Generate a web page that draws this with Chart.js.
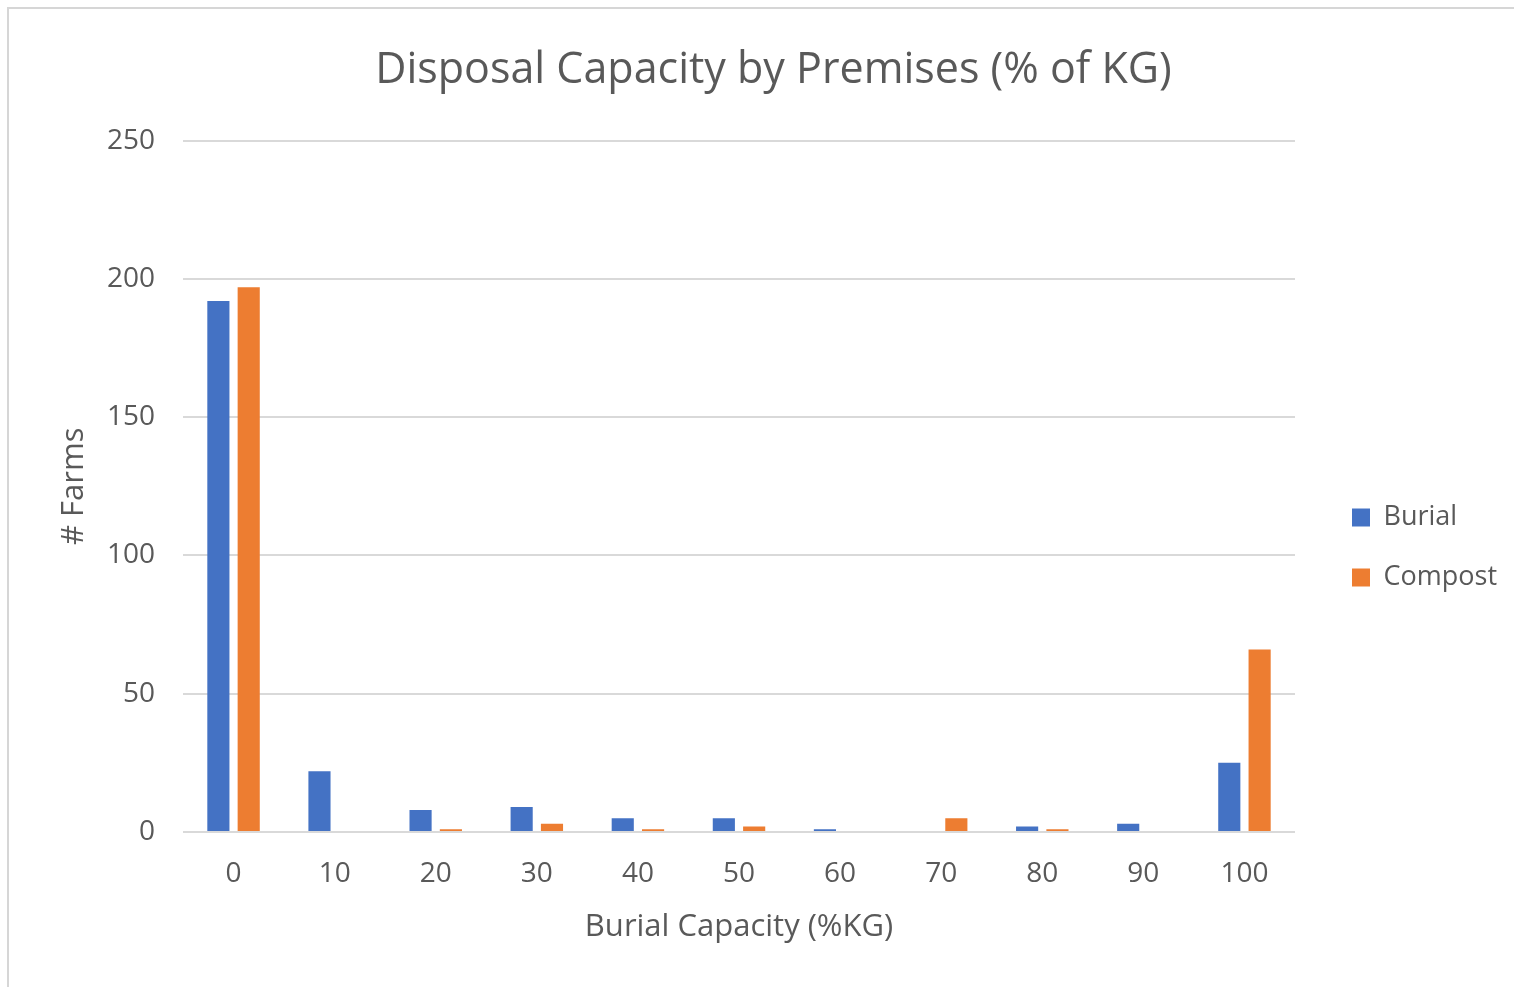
<!DOCTYPE html>
<html>
<head>
<meta charset="utf-8">
<script src="https://cdn.jsdelivr.net/npm/chart.js@4.4.1/dist/chart.umd.min.js"></script>
<style>
  html, body { margin: 0; padding: 0; background: #fff; overflow: hidden; }
  #frame { position: absolute; left: 7px; top: 7px; width: 1520px; height: 1000px;
           border-top: 2px solid #d6d6d6; border-left: 2px solid #d6d6d6; }
  #wrap { position: absolute; left: 0; top: 0; width: 1514px; height: 987px; }
</style>
</head>
<body>
<div id="frame"></div>
<div id="wrap"><canvas id="grafico"></canvas></div>
<script>
// dati
const categorie = ['0', '10', '20', '30', '40', '50', '60', '70', '80', '90', '100'];
const burial  = [192, 22, 8, 9, 5, 5, 1, 0, 2, 3, 25];
const compost = [197, 0, 1, 3, 1, 2, 0, 5, 1, 0, 66];
const yTicks = [0, 50, 100, 150, 200, 250];

const grigio = '#595959';
const font = "'Open Sans', 'Noto Sans', sans-serif";

const ctx = document.getElementById('grafico').getContext('2d');
new Chart(ctx, {
  type: 'bar',
  data: {
    labels: categorie,
    datasets: [
      { label: 'Burial', data: burial, backgroundColor: '#4472c4',
        categoryPercentage: 0.6, barPercentage: 0.73 },
      { label: 'Compost', data: compost, backgroundColor: '#ed7d31',
        categoryPercentage: 0.6, barPercentage: 0.73 }
    ]
  },
  options: {
    responsive: true,
    maintainAspectRatio: false,
    animation: false,
    layout: { padding: { left: 40, right: 7, top: 45, bottom: 41 } },
    plugins: {
      title: {
        display: true,
        text: 'Disposal Capacity by Premises (% of KG)',
        color: grigio,
        font: { family: font, size: 43, weight: 'normal' },
        padding: { top: 0, bottom: 44 }
      },
      legend: {
        position: 'right',
        // titolo vuoto solo per spostare la legenda più in basso
        title: { display: true, text: ' ', font: { size: 20 }, padding: 40 },
        labels: {
          color: grigio,
          font: { family: font, size: 27 },
          boxWidth: 18, boxHeight: 18,
          padding: 33
        }
      },
      tooltip: { enabled: false }
    },
    scales: {
      x: {
        afterFit: s => { s.height = 114; },
        grid: { display: false, drawTicks: false },
        border: { display: false },
        ticks: { color: grigio, font: { family: font, size: 28 }, padding: 25 },
        title: {
          display: true, text: 'Burial Capacity (%KG)', color: grigio,
          font: { family: font, size: 31 }, padding: { top: 0, bottom: 0 }
        }
      },
      y: {
        min: 0, max: 250,
        afterBuildTicks: axis => { axis.ticks = yTicks.map(v => ({ value: v })); },
        afterFit: s => { s.width = 143; },
        grid: { color: '#d9d9d9', lineWidth: 2, drawTicks: false },
        border: { display: false },
        ticks: { color: grigio, font: { family: font, size: 28 }, padding: 28 },
        title: {
          display: true, text: '# Farms', color: grigio,
          font: { family: font, size: 31 }, padding: { top: 16, bottom: 0 }
        }
      },
      // asse vuoto a destra: solo spazio tra grafico e legenda
      spazio: {
        position: 'right',
        display: true,
        grid: { display: false, drawTicks: false },
        border: { display: false },
        ticks: { display: false },
        afterFit: s => { s.width = 24; }
      }
    }
  }
});
</script>
</body>
</html>
